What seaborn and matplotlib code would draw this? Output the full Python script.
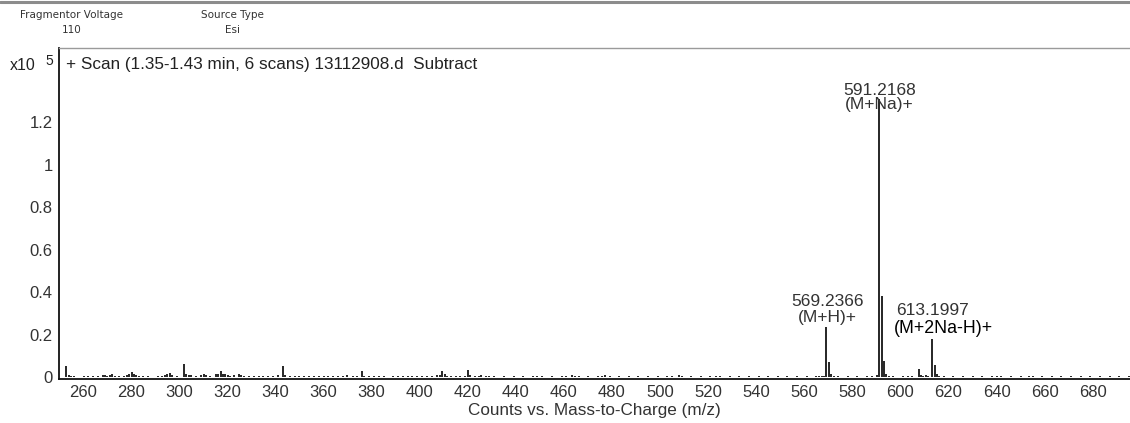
import matplotlib
matplotlib.use("Agg")
import matplotlib.pyplot as plt
from matplotlib.lines import Line2D
from matplotlib.ticker import FuncFormatter
import seaborn as sns

# Centroided peaks of the subtracted scan: m/z and intensity (counts x10^5)
mz = [
    253.1, 254.2, 255.0, 256.1, 258.0, 260.2, 262.1, 264.0, 266.1, 268.2,
    269.1, 270.0, 271.1, 272.2, 273.1, 275.0, 277.1, 278.2, 279.1, 280.2,
    281.1, 282.0, 283.1, 285.0, 287.1, 289.0, 291.1, 293.0, 294.2, 295.1,
    296.2, 297.1, 299.0, 301.9, 302.9, 304.0, 305.1, 307.0, 309.1, 310.2,
    311.1, 313.0, 315.1, 316.2, 317.2, 318.1, 319.2, 320.1, 321.1, 323.0,
    324.9, 325.9, 327.0, 329.1, 331.0, 333.1, 335.0, 337.1, 339.0, 341.1,
    343.1, 344.1, 346.0, 348.1, 350.0, 352.1, 354.0, 356.1, 358.0, 360.1,
    362.0, 364.1, 366.0, 368.1, 370.0, 372.1, 374.0, 375.9, 377.0, 379.1,
    381.0, 383.1, 385.0, 387.1, 389.0, 391.1, 393.0, 395.1, 397.0, 399.1,
    401.0, 403.1, 405.0, 407.1, 408.5, 409.5, 410.5, 411.5, 413.0, 415.1,
    417.0, 418.9, 420.1, 421.1, 423.0, 424.6, 425.6, 427.5, 429.0, 431.1,
    433.0, 435.1, 437.0, 439.1, 441.0, 443.1, 445.0, 447.1, 449.0, 451.1,
    453.0, 455.1, 457.0, 459.1, 461.0, 463.5, 464.5, 466.1, 468.0, 470.1,
    472.0, 474.1, 476.0, 477.3, 479.0, 481.1, 483.0, 485.1, 487.0, 489.1,
    491.0, 493.1, 495.0, 497.1, 499.0, 501.1, 503.0, 505.1, 508.0, 509.0,
    511.1, 513.0, 515.1, 517.0, 519.1, 521.0, 523.1, 525.0, 527.1, 529.0,
    531.1, 533.0, 535.1, 537.0, 539.1, 541.0, 543.1, 545.0, 547.1, 549.0,
    551.1, 553.0, 555.1, 557.0, 559.1, 561.0, 563.1, 565.0, 566.2, 567.5,
    568.4, 569.2366, 570.24, 571.2, 572.2, 574.0, 576.1, 578.0, 580.1, 582.0,
    584.1, 586.0, 588.1, 590.2, 591.2168, 592.22, 593.22, 594.2, 595.2, 597.0,
    599.1, 601.0, 603.1, 605.0, 607.7, 608.7, 609.6, 610.6, 611.5, 613.1997,
    614.5, 615.2, 616.2, 618.0, 620.1, 622.0, 624.1, 626.0, 628.1, 630.0,
    632.1, 634.0, 636.1, 638.0, 640.1, 642.0, 644.1, 646.0, 648.1, 650.0,
    652.1, 653.4, 655.0, 657.1, 659.0, 661.1, 663.0, 665.1, 667.0, 669.1,
    671.0, 673.1, 675.0, 677.1, 679.0, 681.1, 683.0, 685.1, 687.0, 689.1,
    691.0, 693.1, 695.0,
]
counts = [
    0.055, 0.012, 0.008, 0.006, 0.004, 0.005, 0.006, 0.005, 0.007, 0.010,
    0.012, 0.006, 0.010, 0.014, 0.008, 0.006, 0.009, 0.012, 0.018, 0.024,
    0.016, 0.012, 0.006, 0.008, 0.006, 0.004, 0.006, 0.008, 0.012, 0.016,
    0.020, 0.012, 0.008, 0.065, 0.016, 0.010, 0.012, 0.006, 0.012, 0.016,
    0.010, 0.008, 0.014, 0.018, 0.028, 0.014, 0.016, 0.010, 0.008, 0.012,
    0.018, 0.010, 0.008, 0.006, 0.007, 0.006, 0.005, 0.006, 0.008, 0.010,
    0.052, 0.010, 0.006, 0.005, 0.006, 0.008, 0.007, 0.005, 0.006, 0.005,
    0.007, 0.008, 0.006, 0.009, 0.012, 0.006, 0.007, 0.030, 0.008, 0.006,
    0.005, 0.006, 0.005, 0.004, 0.005, 0.006, 0.005, 0.007, 0.006, 0.005,
    0.006, 0.007, 0.009, 0.010, 0.012, 0.032, 0.018, 0.008, 0.006, 0.005,
    0.006, 0.008, 0.036, 0.010, 0.008, 0.008, 0.011, 0.009, 0.006, 0.005,
    0.004, 0.005, 0.004, 0.005, 0.004, 0.005, 0.004, 0.005, 0.006, 0.005,
    0.004, 0.005, 0.004, 0.005, 0.005, 0.012, 0.006, 0.005, 0.004, 0.005,
    0.004, 0.005, 0.005, 0.010, 0.005, 0.004, 0.005, 0.004, 0.005, 0.004,
    0.005, 0.004, 0.005, 0.004, 0.005, 0.004, 0.005, 0.005, 0.012, 0.006,
    0.004, 0.005, 0.004, 0.005, 0.004, 0.005, 0.006, 0.005, 0.004, 0.005,
    0.004, 0.005, 0.004, 0.005, 0.004, 0.005, 0.004, 0.005, 0.004, 0.005,
    0.004, 0.005, 0.004, 0.005, 0.004, 0.005, 0.004, 0.005, 0.009, 0.006,
    0.008, 0.235, 0.072, 0.016, 0.006, 0.005, 0.004, 0.005, 0.004, 0.005,
    0.004, 0.005, 0.005, 0.012, 1.31, 0.385, 0.075, 0.018, 0.008, 0.005,
    0.004, 0.005, 0.005, 0.006, 0.040, 0.012, 0.008, 0.012, 0.006, 0.180,
    0.058, 0.014, 0.006, 0.005, 0.004, 0.005, 0.004, 0.005, 0.004, 0.005,
    0.004, 0.005, 0.004, 0.005, 0.006, 0.005, 0.004, 0.005, 0.004, 0.005,
    0.004, 0.008, 0.005, 0.004, 0.005, 0.004, 0.005, 0.004, 0.005, 0.004,
    0.005, 0.004, 0.005, 0.004, 0.005, 0.004, 0.005, 0.004, 0.005, 0.004,
    0.005, 0.004, 0.005,
]

# Labelled ions
ion_mz = [591.2168, 569.2366, 613.1997]
ion_name = ["(M+Na)+", "(M+H)+", "(M+2Na-H)+"]

x_ticks = list(range(260, 700, 20))
y_ticks = [0, 0.2, 0.4, 0.6, 0.8, 1.0, 1.2]

sns.set_theme(style="white")
plt.rcParams["font.family"] = ["Liberation Sans", "DejaVu Sans"]

W, H = 1130, 423
fig = plt.figure(figsize=(W / 100, H / 100), dpi=100)
fig.patch.set_facecolor("white")

ax = fig.add_axes([59 / W, 1 - 378.5 / H, (W - 59) / W, (378.5 - 48) / H])
ax.set_facecolor("white")

ax.vlines(mz, 0, counts, colors="#262626", linewidth=1.4)

ax.set_xlim(250, 695.5)
ax.set_ylim(-0.005, 1.55)
ax.set_xticks(x_ticks)
ax.set_yticks(y_ticks)
ax.yaxis.set_major_formatter(FuncFormatter(lambda v, p: f"{v:g}"))
ax.tick_params(axis="both", which="major", direction="out", length=2.5,
               width=0.8, color="#888888", labelsize=12,
               labelcolor="#333333")
ax.tick_params(axis="x", pad=2.5)
ax.tick_params(axis="y", pad=2)

for side in ("left", "bottom"):
    ax.spines[side].set_color("#111111")
    ax.spines[side].set_linewidth(1.3)
ax.spines["top"].set_color("#9a9a9a")
ax.spines["top"].set_linewidth(1.0)
ax.spines["right"].set_visible(False)

ax.set_xlabel("Counts vs. Mass-to-Charge (m/z)", fontsize=12.3,
              color="#333333", labelpad=2)

# Scan description inside the plot frame
ax.text(7 / (W - 59), 1 - 16.5 / 330.5,
        "+ Scan (1.35-1.43 min, 6 scans) 13112908.d  Subtract",
        transform=ax.transAxes, fontsize=12.3, color="#222222",
        ha="left", va="center")

# Ion annotations
lab_col = "#333333"
ax.text(ion_mz[0], 1.35, f"{ion_mz[0]:.4f}", ha="center", va="center",
        fontsize=12.5, color=lab_col)
ax.text(ion_mz[0], 1.285, ion_name[0], ha="center", va="center",
        fontsize=12.5, color=lab_col)
ax.text(ion_mz[1] + 0.3, 0.357, f"{ion_mz[1]:.4f}", ha="center", va="center",
        fontsize=12.5, color=lab_col)
ax.text(ion_mz[1] + 0.3, 0.282, ion_name[1], ha="center", va="center",
        fontsize=12.5, color=lab_col)
ax.text(598.2, 0.315, f"{ion_mz[2]:.4f}", ha="left", va="center",
        fontsize=12.5, color=lab_col)
ax.text(597.3, 0.23, ion_name[2], ha="left", va="center",
        fontsize=12.8, color="black")

# Exponent marker for the count axis
fig.text(36 / W, 1 - 66 / H, "x10", ha="right", va="center",
         fontsize=11.5, color="#222222")
fig.text(45 / W, 1 - 61 / H, "5", ha="left", va="center",
         fontsize=10, color="#222222")

# Acquisition header
hdr = ["Liberation Sans Narrow", "DejaVu Sans"]
fig.text(71 / W, 1 - 15 / H, "Fragmentor Voltage", ha="center", va="center",
         fontsize=7.5, color="#333333", family=hdr)
fig.text(72 / W, 1 - 30 / H, "110", ha="center", va="center",
         fontsize=7.5, color="#333333", family=hdr)
fig.text(232 / W, 1 - 15 / H, "Source Type", ha="center", va="center",
         fontsize=7.5, color="#333333", family=hdr)
fig.text(232 / W, 1 - 30 / H, "Esi", ha="center", va="center",
         fontsize=7.5, color="#333333", family=hdr)

# Page rule across the top
fig.add_artist(Line2D([0, 1], [1 - 2 / H, 1 - 2 / H], transform=fig.transFigure,
                      color="#8c8c8c", linewidth=2.2))

fig.savefig("out.png", dpi=100, facecolor="white")
